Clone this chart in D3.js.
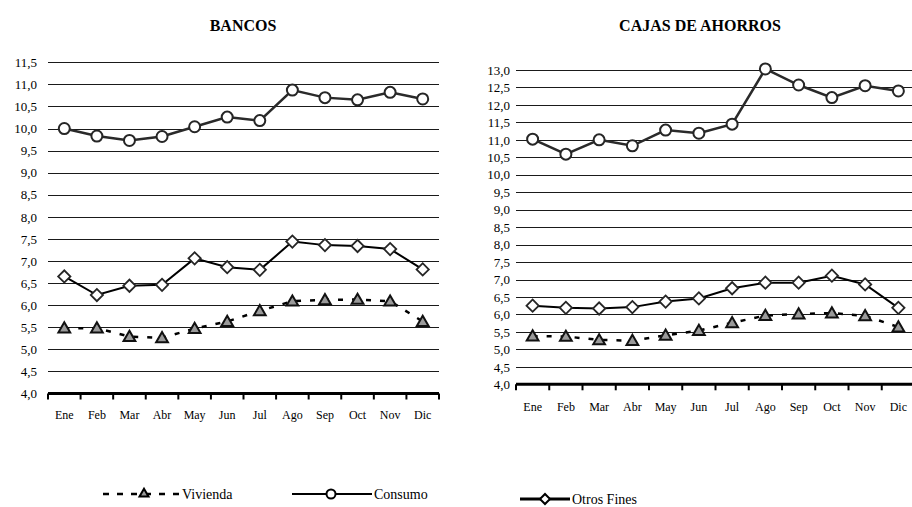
<!DOCTYPE html>
<html>
<head>
<meta charset="utf-8">
<script src="https://cdn.jsdelivr.net/npm/d3@7"></script>
<style>
  body { margin: 0; background: #fff; }
  svg text { font-family: "Liberation Serif", serif; fill: #000; }
  .title { font-weight: bold; font-size: 16px; }
  .ylab { font-size: 13px; }
  .xlab { font-size: 12px; }
  .legtext { font-size: 14px; }
</style>
</head>
<body>
<div id="chart"></div>
<script>
let months = ["Ene","Feb","Mar","Abr","May","Jun","Jul","Ago","Sep","Oct","Nov","Dic"];

let bancos_vivienda = [5.48,5.48,5.29,5.26,5.47,5.63,5.87,6.09,6.12,6.13,6.09,5.63];
let bancos_consumo  = [10.0,9.83,9.73,9.82,10.04,10.26,10.18,10.87,10.70,10.65,10.82,10.67];
let bancos_otros    = [6.65,6.23,6.44,6.46,7.06,6.86,6.80,7.44,7.36,7.34,7.27,6.81];

let cajas_vivienda = [5.38,5.37,5.27,5.25,5.40,5.54,5.76,5.97,6.01,6.04,5.96,5.64];
let cajas_consumo  = [11.02,10.59,11.0,10.83,11.28,11.19,11.45,13.03,12.57,12.21,12.55,12.40];
let cajas_otros    = [6.25,6.19,6.17,6.21,6.37,6.46,6.75,6.91,6.91,7.11,6.86,6.19];

let bancos_ticks = d3.range(4, 11.51, 0.5);
let cajas_ticks = d3.range(4, 13.01, 0.5);

let series_names = ["Vivienda","Consumo","Otros Fines"];

let width = 912, height = 507;
let serif = "'Liberation Serif', serif";

let svg = d3.select("#chart").append("svg")
  .attr("width", width)
  .attr("height", height);

let fmt = d => d.toFixed(1).replace(".", ",");

let triangle = d3.symbol().type(d3.symbolTriangle).size(60);
let diamond = d3.symbol().type(d3.symbolSquare).size(75);

function drawMarker(g, kind, x, y) {
  if (kind === "Consumo") {
    g.append("circle").attr("cx", x).attr("cy", y).attr("r", 5.5)
      .attr("fill", "#fff").attr("stroke", "#262626").attr("stroke-width", 2);
  } else if (kind === "Otros Fines") {
    g.append("path").attr("d", diamond())
      .attr("transform", "translate(" + x + "," + y + ") rotate(45)")
      .attr("fill", "#fff").attr("stroke", "#262626").attr("stroke-width", 1.8);
  } else {
    g.append("path").attr("d", triangle())
      .attr("transform", "translate(" + x + "," + (y + 1) + ")")
      .attr("fill", "#9a9a9a").attr("stroke", "#111").attr("stroke-width", 2);
  }
}

function drawPanel(opts) {
  let g = svg.append("g");
  let x = d3.scaleBand().domain(months).range(opts.xr);
  let y = d3.scaleLinear().domain(opts.yd).range(opts.yr);

  g.append("text").attr("class", "title")
    .attr("x", opts.titleX).attr("y", 31)
    .attr("font-family", serif)
    .attr("text-anchor", "middle").text(opts.title);

  // gridlines + y labels
  let yAxis = d3.axisLeft(y).tickValues(opts.ticks).tickSize(0).tickPadding(0).tickFormat(fmt);
  let ya = g.append("g").attr("transform", "translate(" + (opts.xr[0] - opts.labGap) + ",0)").call(yAxis);
  ya.attr("font-family", serif).attr("font-size", 13);
  ya.select(".domain").remove();
  ya.selectAll("text").attr("class", "ylab");

  g.selectAll(".grid").data(opts.ticks.slice(1)).enter().append("line")
    .attr("x1", opts.xr[0]).attr("x2", opts.xr[1])
    .attr("y1", d => Math.round(y(d)) + 0.5).attr("y2", d => Math.round(y(d)) + 0.5)
    .attr("stroke", "#1a1a1a").attr("stroke-width", 1);

  // x axis
  let x0 = opts.yr[0];
  g.append("line").attr("x1", opts.xr[0]).attr("x2", opts.xr[1])
    .attr("y1", x0).attr("y2", x0).attr("stroke", "#000").attr("stroke-width", 3);
  let bounds = months.map(m => x(m)).concat([opts.xr[1]]);
  g.selectAll(".xt").data(bounds).enter().append("line")
    .attr("x1", d => d).attr("x2", d => d)
    .attr("y1", x0).attr("y2", x0 + 6)
    .attr("stroke", "#000").attr("stroke-width", 2);
  g.selectAll(".xl").data(months).enter().append("text")
    .attr("class", "xlab")
    .attr("font-family", serif)
    .attr("x", d => x(d) + x.bandwidth() / 2)
    .attr("y", x0 + opts.monthDy)
    .attr("text-anchor", "middle").text(d => d);

  let cx = (d, i) => x(months[i]) + x.bandwidth() / 2;
  let line = d3.line().x(cx).y(d => y(d));

  g.append("path").datum(opts.vivienda).attr("d", line)
    .attr("fill", "none").attr("stroke", "#000").attr("stroke-width", 2.5)
    .attr("stroke-dasharray", "5,9");
  g.append("path").datum(opts.otros).attr("d", line)
    .attr("fill", "none").attr("stroke", "#000").attr("stroke-width", 2);
  g.append("path").datum(opts.consumo).attr("d", line)
    .attr("fill", "none").attr("stroke", "#2a2a2a").attr("stroke-width", 2.5);

  opts.otros.forEach((d, i) => drawMarker(g, "Otros Fines", cx(d, i), y(d)));
  opts.vivienda.forEach((d, i) => drawMarker(g, "Vivienda", cx(d, i), y(d)));
  opts.consumo.forEach((d, i) => drawMarker(g, "Consumo", cx(d, i), y(d)));
}

drawPanel({
  title: "BANCOS", titleX: 243,
  xr: [48, 439], yd: [4, 11.5], yr: [393.5, 62.3], labGap: 11,
  ticks: bancos_ticks, monthDy: 25,
  vivienda: bancos_vivienda, consumo: bancos_consumo, otros: bancos_otros
});

drawPanel({
  title: "CAJAS DE AHORROS", titleX: 700,
  xr: [516, 915], yd: [4, 13], yr: [384.3, 70], labGap: 6,
  ticks: cajas_ticks, monthDy: 27,
  vivienda: cajas_vivienda, consumo: cajas_consumo, otros: cajas_otros
});

// legend
let legend = [
  {name: series_names[0], x1: 103, x2: 180, y: 494, dash: "6,8", w: 2.5},
  {name: series_names[1], x1: 292, x2: 372, y: 494, dash: null, w: 2},
  {name: series_names[2], x1: 520, x2: 570, y: 499, dash: null, w: 3}
];
let lg = svg.append("g");
legend.forEach(l => {
  lg.append("line").attr("x1", l.x1).attr("x2", l.x2).attr("y1", l.y).attr("y2", l.y)
    .attr("stroke", "#000").attr("stroke-width", l.w)
    .attr("stroke-dasharray", l.dash);
  let mx = (l.x1 + l.x2) / 2;
  if (l.name === "Vivienda") {
    lg.append("path").attr("d", d3.symbol().type(d3.symbolTriangle).size(35)())
      .attr("transform", "translate(" + 144 + "," + (l.y) + ")")
      .attr("fill", "#9a9a9a").attr("stroke", "#000").attr("stroke-width", 2);
  } else if (l.name === "Consumo") {
    lg.append("circle").attr("cx", mx - 1).attr("cy", l.y).attr("r", 4.5)
      .attr("fill", "#fff").attr("stroke", "#000").attr("stroke-width", 2);
  } else {
    lg.append("path").attr("d", d3.symbol().type(d3.symbolSquare).size(50)())
      .attr("transform", "translate(" + mx + "," + l.y + ") rotate(45)")
      .attr("fill", "#fff").attr("stroke", "#000").attr("stroke-width", 2);
  }
  lg.append("text").attr("class", "legtext")
    .attr("font-family", serif)
    .attr("x", l.x2 + 2).attr("y", l.y + 5).text(l.name);
});
</script>
</body>
</html>
